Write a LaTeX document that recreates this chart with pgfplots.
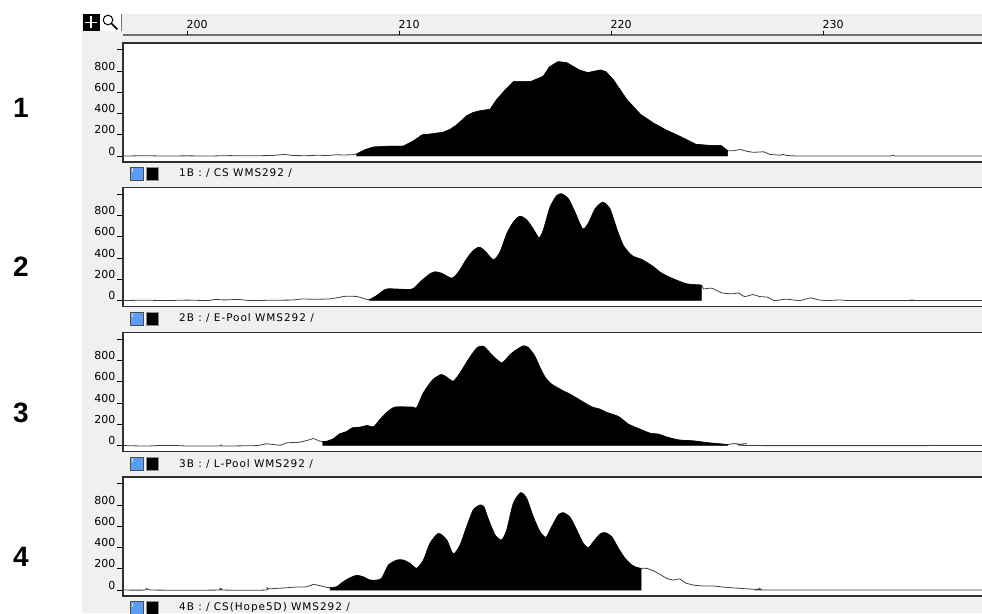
\documentclass[border=0pt]{standalone}
\usepackage{fontspec}
\setmainfont{DejaVu Sans}
\newfontfamily\bigf{Liberation Sans}
\usepackage{pgfplots}
\usepackage{pgfplotstable}
\pgfplotsset{compat=1.18}
\definecolor{bg}{HTML}{F0F0F0}
\definecolor{framec}{HTML}{303030}
\definecolor{tracec}{HTML}{404040}
\definecolor{rulec}{HTML}{707070}
\definecolor{blueic}{HTML}{5E9CF2}

\pgfplotstableread{
x y
196.98 0
198.0 3
199.0 0
200.0 2
201.0 0
202.0 4
203.0 2
204.0 5
204.6 15
205.0 5
205.6 3
206.2 8
206.6 4
207.0 12
207.4 10
207.8 12
208.0 20
208.4 60
208.8 85
209.5 93
210.2 93
210.66 140
211.1 200
211.6 210
212.1 225
212.4 250
212.7 290
213.2 380
213.5 410
213.8 425
214.3 440
214.6 530
215.0 620
215.4 700
216.2 700
216.8 750
217.1 840
217.5 888
217.9 880
218.5 810
218.9 785
219.5 810
219.75 795
220.1 720
220.75 530
221.4 390
222.0 310
222.6 245
223.25 185
223.6 150
224.0 110
224.8 98
225.2 98
225.5 50
225.77 50
226.1 62
226.4 45
226.7 35
227.2 40
227.5 15
228.0 8
228.1 15
228.3 5
228.8 0
233.2 0
233.3 8
233.4 0
237.64 0
}\pa

\pgfplotstableread{
x y
196.98 0
198.0 3
199.0 0
200.0 4
201.0 0
201.3 10
201.8 6
202.4 10
203.0 0
204.0 3
205.0 5
205.4 15
206.0 12
206.75 16
207.2 31
207.5 41
208.0 38
208.24 25
208.6 8
208.95 47
209.26 94
209.5 110
210.52 104
210.75 125
211.07 188
211.46 251
211.7 270
212.0 257
212.49 210
212.8 267
213.19 392
213.5 470
213.79 502
214.06 464
214.45 383
214.76 455
215.08 627
215.39 737
215.7 794
216.02 759
216.33 674
216.6 590
216.8 659
217.12 878
217.44 988
217.67 1004
217.99 957
218.3 831
218.66 674
218.93 728
219.25 863
219.61 925
219.95 863
220.27 674
220.58 518
220.98 424
221.45 386
221.92 329
222.39 257
222.94 204
223.57 157
224.26 145
224.36 110
224.75 116
225.23 72
225.77 63
226.0 72
226.3 38
226.7 56
227.0 38
227.4 31
227.7 0
228.26 13
228.9 0
229.4 25
229.8 6
230.2 0
230.87 6
231.2 0
234.1 0
234.2 6
234.3 0
237.64 0
}\pb

\pgfplotstableread{
x y
196.98 0
198.1 -5
198.6 0
199.5 0
200.0 -4
201.5 -4
201.6 5
201.7 -4
203.3 0
203.7 16
204.1 9
204.4 3
204.7 25
205.3 31
205.8 56
205.96 66
206.27 41
206.4 38
206.6 41
206.9 63
207.2 110
207.5 129
207.8 166
208.16 173
208.5 188
208.8 176
209.1 245
209.4 307
209.8 361
210.67 361
210.83 354
211.15 496
211.6 621
212.0 668
212.25 643
212.56 605
212.88 684
213.27 809
213.67 919
213.98 935
214.37 856
214.84 778
215.24 856
215.55 903
215.87 938
216.1 922
216.4 844
216.65 734
216.9 640
217.2 577
217.75 514
218.07 483
218.6 420
219.09 364
219.48 342
219.8 311
220.35 273
220.82 201
221.37 154
221.84 116
222.24 107
222.6 82
223.18 53
223.88 44
224.5 28
225.14 16
225.5 9
225.8 19
226.1 12
226.4 19
226.6 0
237.64 0
}\pc

\pgfplotstableread{
x y
196.98 0
198.0 0
198.1 16
198.4 0
201.5 0
201.56 16
201.7 0
203.7 0
203.76 25
203.9 12
205.17 28
205.65 31
205.96 53
206.27 41
206.6 25
206.75 22
207.06 31
207.37 78
207.7 116
208.0 138
208.3 125
208.63 94
208.95 94
209.18 110
209.5 235
209.9 282
210.2 282
210.52 251
210.83 204
211.15 282
211.46 439
211.86 533
212.25 471
212.56 339
212.88 424
213.19 596
213.5 753
213.82 800
214.0 784
214.2 674
214.53 518
214.84 471
215.08 565
215.39 816
215.74 916
216.02 863
216.33 690
216.65 549
216.93 496
217.2 596
217.51 706
217.75 728
218.07 684
218.38 565
218.69 439
218.93 398
219.17 455
219.48 527
219.72 540
220.03 502
220.35 392
220.66 298
220.98 235
221.21 213
221.42 204
221.68 204
221.99 182
222.31 147
222.63 110
222.94 94
223.25 104
223.49 69
223.88 47
224.36 38
224.83 38
225.46 25
226.08 16
226.87 6
227.0 16
227.1 4
227.5 0
237.64 0
}\pd

\pgfplotsset{
  panel/.style={
    at={(123pt,#1)}, anchor=south west, scale only axis,
    width=862pt, height=119pt,
    xmin=196.98, xmax=237.64, ymin=-56, ymax=1064,
    axis background/.style={fill=white},
    axis line style={framec, line width=1.5pt},
    ytick={0,200,400,600,800},
    extra y ticks={1000}, extra y tick labels={},
    extra y tick style={tick align=outside, major tick length=6pt},
    tick align=outside, major tick length=6pt,
    ytick pos=left,
    ytick style={black, line width=0.7pt},
    yticklabel style={font=\fontsize{11}{11}\selectfont, anchor=south east, inner sep=0.5pt, xshift=-1pt},
    /pgf/number format/assume math mode=true,
    xtick=\empty,
    clip mode=individual,
  },
  traceline/.style={tracec, line width=0.8pt},
  area/.style={fill=black, draw=black, line width=0.4pt},
  sm/.style={smooth, tension=0.4},
}

\newcommand{\strip}[2]{%
  \fill[blueic, draw=black!70, line width=0.7pt] (130,#1-6.5) rectangle (143.5,#1+6.5);
  \fill[white!70!blueic] (131.5,#1+1) rectangle (133,#1+5);
  \fill[black, draw=black!45, line width=0.7pt] (146,#1-6.5) rectangle (158.5,#1+6.5);
  \node[anchor=west, inner sep=0pt, font=\fontsize{10.5}{11}\selectfont\addfontfeature{LetterSpace=9}] at (179,#1) {#2};
}

\begin{document}
\begin{tikzpicture}[x=1pt,y=1pt]
\path[use as bounding box] (0,0) rectangle (982,613);
\clip (0,0) rectangle (982,613);
\fill[white] (0,0) rectangle (982,613);
\fill[bg] (82,0) rectangle (982,599);

% top-left icons
\fill[black] (82.5,582) rectangle (99.5,599);
\draw[white, line width=1.7pt] (91,584.5) -- (91,596.5) (85,590.5) -- (97,590.5);
\fill[white] (99.5,582) rectangle (122,599);
\draw[rulec, line width=1pt] (121.5,582) -- (121.5,599);
\draw[black, line width=1pt] (108,593) circle (4.8);
\draw[black, line width=1.5pt] (111.5,589.5) -- (117.5,583.5);

% panel 1
\begin{axis}[panel={451pt},
  xtick={200,210,220,230}, xticklabel pos=upper,
  xtick style={draw=none},
  xticklabel style={font=\fontsize{11}{11}\selectfont, anchor=south west, inner sep=0pt, yshift=8pt, xshift=-0.5pt},
]
\addplot[traceline] table {\pa};
\addplot[area, restrict x to domain=207.99:225.51] table {\pa} \closedcycle;
\draw[rulec, line width=1.5pt] ([yshift=8pt]rel axis cs:0,1) -- ([yshift=8pt]rel axis cs:1,1);
\pgfplotsinvokeforeach{200,210,220,230}{
  \draw[black, line width=0.8pt] ([yshift=8pt]axis cs:#1,1064) -- ([yshift=11.5pt]axis cs:#1,1064);
}
\end{axis}

% panel 2
\begin{axis}[panel={306.5pt}]
\addplot[traceline, sm] table {\pb};
\addplot[area, sm, restrict x to domain=208.59:224.27] table {\pb} \closedcycle;
\end{axis}

% panel 3
\begin{axis}[panel={161.5pt}]
\addplot[traceline, sm] table {\pc};
\addplot[area, sm, restrict x to domain=206.39:225.51] table {\pc} \closedcycle;
\end{axis}

% panel 4
\begin{axis}[panel={17pt}]
\addplot[traceline, sm] table {\pd};
\addplot[area, sm, restrict x to domain=206.74:221.43] table {\pd} \closedcycle;
\end{axis}

\strip{439.5}{1B : / CS WMS292 /}
\strip{294.5}{2B : / E-Pool WMS292 /}
\strip{149.5}{3B : / L-Pool WMS292 /}
\strip{5.5}{4B : / CS(Hope5D) WMS292 /}

\begin{scope}[every node/.style={font=\bigf\bfseries\fontsize{28}{28}\selectfont}]
\node at (21,505) {1};
\node at (21,346) {2};
\node at (21,200) {3};
\node at (21,56) {4};
\end{scope}
\end{tikzpicture}
\end{document}
